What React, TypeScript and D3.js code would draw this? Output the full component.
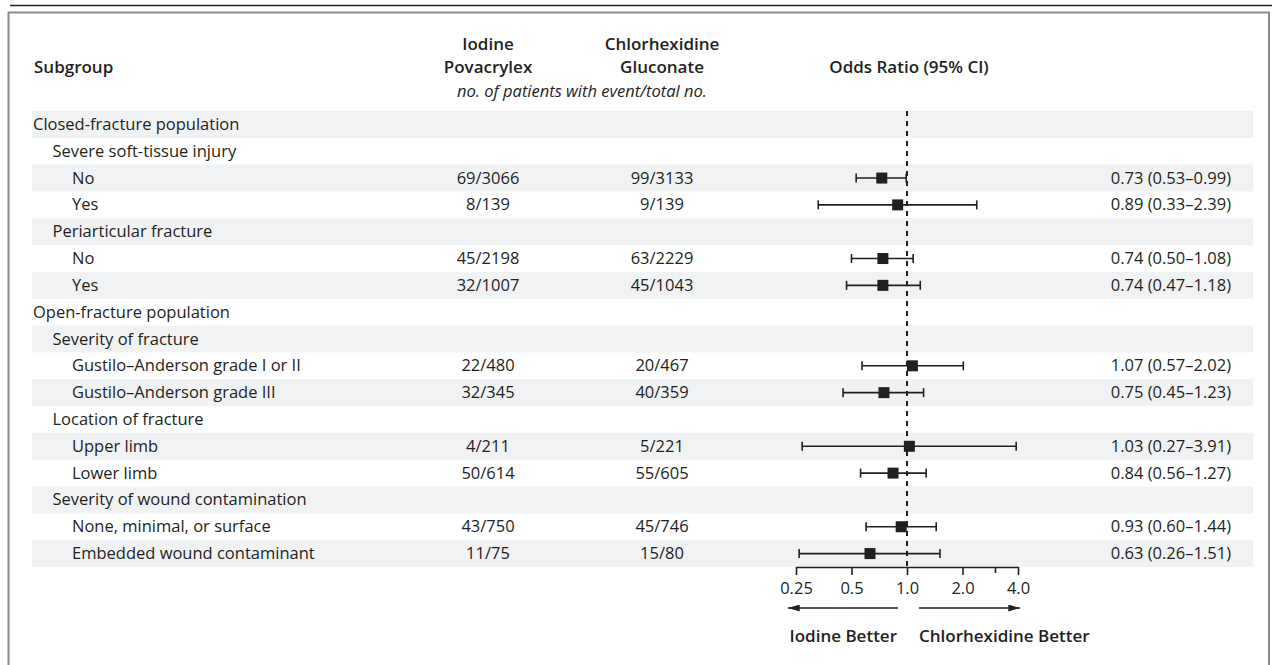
import { useEffect, useRef } from "react";
import * as d3 from "d3";

// Subgroup rows, top to bottom
const subgroupLabels = [
  "Closed-fracture population",
  "Severe soft-tissue injury",
  "No",
  "Yes",
  "Periarticular fracture",
  "No",
  "Yes",
  "Open-fracture population",
  "Severity of fracture",
  "Gustilo–Anderson grade I or II",
  "Gustilo–Anderson grade III",
  "Location of fracture",
  "Upper limb",
  "Lower limb",
  "Severity of wound contamination",
  "None, minimal, or surface",
  "Embedded wound contaminant",
];
const indentLevels = [0, 1, 2, 2, 1, 2, 2, 0, 1, 2, 2, 1, 2, 2, 1, 2, 2];
const iodineCounts = [
  "", "", "69/3066", "8/139", "", "45/2198", "32/1007", "", "",
  "22/480", "32/345", "", "4/211", "50/614", "", "43/750", "11/75",
];
const chlorCounts = [
  "", "", "99/3133", "9/139", "", "63/2229", "45/1043", "", "",
  "20/467", "40/359", "", "5/221", "55/605", "", "45/746", "15/80",
];
const oddsRatios = [
  null, null, 0.73, 0.89, null, 0.74, 0.74, null, null,
  1.07, 0.75, null, 1.03, 0.84, null, 0.93, 0.63,
];
const ciLower = [
  null, null, 0.53, 0.33, null, 0.5, 0.47, null, null,
  0.57, 0.45, null, 0.27, 0.56, null, 0.6, 0.26,
];
const ciUpper = [
  null, null, 0.99, 2.39, null, 1.08, 1.18, null, null,
  2.02, 1.23, null, 3.91, 1.27, null, 1.44, 1.51,
];

const tickValues = [0.25, 0.5, 1, 2, 4];
const tickLabels = ["0.25", "0.5", "1.0", "2.0", "4.0"];
const minorTicks = [3];

const W = 1273;
const H = 665;
const FONT = "'Open Sans', 'Noto Sans', sans-serif";
const INK = "#231f20";
const FS = 16.5;
const HFS = 17;

const App = () => {
  const svgRef = useRef<SVGSVGElement | null>(null);

  useEffect(() => {
    const svg = d3.select(svgRef.current);
    svg.selectAll("*").remove();
    svg.attr("width", W).attr("height", H).style("font-family", FONT);

    svg.append("rect").attr("width", W).attr("height", H).attr("fill", "#fff");

    // top rule and frame
    svg
      .append("line")
      .attr("x1", 10)
      .attr("x2", 1272)
      .attr("y1", 5.5)
      .attr("y2", 5.5)
      .attr("stroke", "#222")
      .attr("stroke-width", 1.5);
    svg
      .append("path")
      .attr("d", `M8.5,${H + 5}V12.5H1269V${H + 5}`)
      .attr("fill", "none")
      .attr("stroke", "#8a8a8a")
      .attr("stroke-width", 2);

    const n = subgroupLabels.length;
    const rowTop = 111;
    const rowBottom = 567;
    const y = d3
      .scaleBand<number>()
      .domain(d3.range(n))
      .range([rowTop, rowBottom]);

    const x = d3.scaleLog().domain([0.25, 4]).range([796, 1018]);

    // zebra stripes
    svg
      .append("g")
      .selectAll("rect")
      .data(d3.range(n).filter((i) => i % 2 === 0))
      .enter()
      .append("rect")
      .attr("x", 32)
      .attr("width", 1253 - 32)
      .attr("y", (i) => y(i)!)
      .attr("height", y.bandwidth())
      .attr("fill", "#f1f2f4");

    // headers
    const hdr = svg
      .append("g")
      .attr("font-weight", 600)
      .attr("font-size", HFS)
      .attr("fill", INK);
    hdr.append("text").attr("x", 34).attr("y", 73).text("Subgroup");
    hdr
      .append("text")
      .attr("x", 488)
      .attr("y", 50)
      .attr("text-anchor", "middle")
      .text("Iodine");
    hdr
      .append("text")
      .attr("x", 488)
      .attr("y", 73)
      .attr("text-anchor", "middle")
      .text("Povacrylex");
    hdr
      .append("text")
      .attr("x", 662)
      .attr("y", 50)
      .attr("text-anchor", "middle")
      .text("Chlorhexidine");
    hdr
      .append("text")
      .attr("x", 662)
      .attr("y", 73)
      .attr("text-anchor", "middle")
      .text("Gluconate");
    hdr
      .append("text")
      .attr("x", 909)
      .attr("y", 73)
      .attr("text-anchor", "middle")
      .text("Odds Ratio (95% CI)");
    svg
      .append("text")
      .attr("x", 582)
      .attr("y", 97)
      .attr("text-anchor", "middle")
      .attr("font-style", "italic")
      .attr("font-size", FS)
      .attr("fill", INK)
      .text("no. of patients with event/total no.");

    // row texts
    const rows = svg
      .append("g")
      .attr("font-size", FS)
      .attr("fill", INK)
      .selectAll("g")
      .data(d3.range(n))
      .enter()
      .append("g")
      .attr("transform", (i) => `translate(0,${y(i)! + y.bandwidth() / 2 + 5.5})`);

    rows
      .append("text")
      .attr("x", (i) => 33 + indentLevels[i] * 19.5)
      .text((i) => subgroupLabels[i]);
    rows
      .append("text")
      .attr("x", 488)
      .attr("text-anchor", "middle")
      .text((i) => iodineCounts[i]);
    rows
      .append("text")
      .attr("x", 662)
      .attr("text-anchor", "middle")
      .text((i) => chlorCounts[i]);
    rows
      .append("text")
      .attr("x", 1231)
      .attr("text-anchor", "end")
      .text((i) =>
        oddsRatios[i] == null
          ? ""
          : `${oddsRatios[i]!.toFixed(2)} (${ciLower[i]!.toFixed(2)}–${ciUpper[i]!.toFixed(2)})`
      );

    // reference line at 1.0
    svg
      .append("line")
      .attr("x1", x(1))
      .attr("x2", x(1))
      .attr("y1", rowTop)
      .attr("y2", rowBottom)
      .attr("stroke", INK)
      .attr("stroke-width", 2)
      .attr("stroke-dasharray", "5,5");

    // CI bars and squares
    const est = d3.range(n).filter((i) => oddsRatios[i] != null);
    const marks = svg
      .append("g")
      .selectAll("g")
      .data(est)
      .enter()
      .append("g")
      .attr("transform", (i) => `translate(0,${y(i)! + y.bandwidth() / 2})`);
    marks
      .append("line")
      .attr("x1", (i) => x(ciLower[i]!))
      .attr("x2", (i) => x(ciUpper[i]!))
      .attr("stroke", INK)
      .attr("stroke-width", 1.6);
    marks
      .append("line")
      .attr("x1", (i) => x(ciLower[i]!))
      .attr("x2", (i) => x(ciLower[i]!))
      .attr("y1", -4.5)
      .attr("y2", 4.5)
      .attr("stroke", INK)
      .attr("stroke-width", 1.6);
    marks
      .append("line")
      .attr("x1", (i) => x(ciUpper[i]!))
      .attr("x2", (i) => x(ciUpper[i]!))
      .attr("y1", -4.5)
      .attr("y2", 4.5)
      .attr("stroke", INK)
      .attr("stroke-width", 1.6);
    marks
      .append("rect")
      .attr("x", (i) => x(oddsRatios[i]!) - 5.5)
      .attr("y", -5.5)
      .attr("width", 11)
      .attr("height", 11)
      .attr("fill", INK);

    // x axis
    const axis = svg
      .append("g")
      .attr("transform", `translate(0,${rowBottom})`)
      .call(
        d3
          .axisBottom(x)
          .tickValues([...tickValues, ...minorTicks])
          .tickSize(8)
          .tickSizeOuter(0)
          .tickFormat((d) => {
            const k = tickValues.indexOf(d as number);
            return k >= 0 ? tickLabels[k] : "";
          })
      );
    axis.select(".domain").attr("stroke", INK).attr("stroke-width", 1.6);
    axis.selectAll(".tick line").attr("stroke", INK).attr("stroke-width", 1.6);
    axis
      .selectAll(".tick")
      .filter((d) => minorTicks.includes(d as number))
      .select("line")
      .attr("y2", 6);
    axis
      .selectAll(".tick text")
      .attr("fill", INK)
      .attr("font-size", FS)
      .attr("font-family", FONT)
      .attr("y", 15);

    // arrows
    const defs = svg.append("defs");
    defs
      .append("marker")
      .attr("id", "arrowHead")
      .attr("viewBox", "0 0 10 6")
      .attr("refX", 10)
      .attr("refY", 3)
      .attr("markerWidth", 12)
      .attr("markerHeight", 7)
      .attr("markerUnits", "userSpaceOnUse")
      .attr("orient", "auto")
      .append("path")
      .attr("d", "M0,0L10,3L0,6Z")
      .attr("fill", INK);
    svg
      .append("line")
      .attr("x1", 898)
      .attr("x2", 788)
      .attr("y1", 608)
      .attr("y2", 608)
      .attr("stroke", INK)
      .attr("stroke-width", 1.6)
      .attr("marker-end", "url(#arrowHead)");
    svg
      .append("line")
      .attr("x1", 919)
      .attr("x2", 1020)
      .attr("y1", 608)
      .attr("y2", 608)
      .attr("stroke", INK)
      .attr("stroke-width", 1.6)
      .attr("marker-end", "url(#arrowHead)");

    const better = svg
      .append("g")
      .attr("font-weight", 600)
      .attr("font-size", HFS)
      .attr("fill", INK);
    better
      .append("text")
      .attr("x", 897)
      .attr("y", 642)
      .attr("text-anchor", "end")
      .text("Iodine Better");
    better
      .append("text")
      .attr("x", 919)
      .attr("y", 642)
      .text("Chlorhexidine Better");
  }, []);

  return (
    <svg
      ref={svgRef}
      style={{ position: "absolute", left: 0, top: 0, display: "block" }}
    ></svg>
  );
};

export default App;
